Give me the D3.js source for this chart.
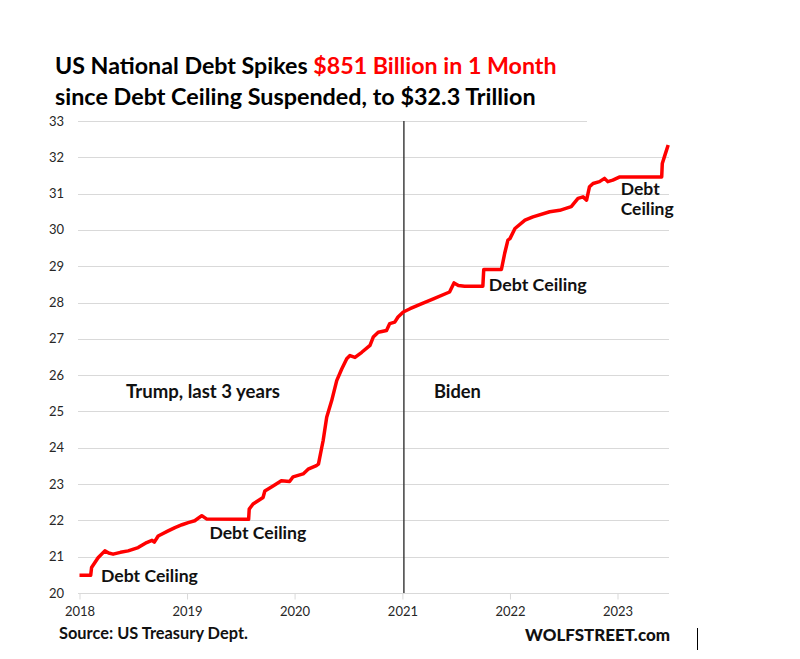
<!DOCTYPE html>
<html>
<head>
<meta charset="utf-8">
<script src="https://cdn.jsdelivr.net/npm/d3@7"></script>
<style>
  html, body { margin: 0; padding: 0; background: #ffffff; }
  svg { display: block; }
  text { font-family: Lato, "Open Sans", sans-serif; }
</style>
</head>
<body>
<svg id="chart" width="800" height="659"></svg>
<script>
// ---- data (US national debt, trillions $) ----
const dates = [
  "2018-01-01","2018-02-08","2018-02-11","2018-03-05","2018-03-28","2018-04-10","2018-04-25",
  "2018-05-20","2018-06-15","2018-07-19","2018-08-17","2018-09-04","2018-09-12","2018-09-25",
  "2018-10-29","2018-11-21","2018-12-15","2019-01-05","2019-01-27","2019-02-20","2019-03-08",
  "2019-07-29","2019-07-31","2019-08-13","2019-09-16","2019-09-22","2019-10-20","2019-11-17",
  "2019-12-15","2019-12-27","2020-01-30","2020-02-16","2020-03-15","2020-03-22","2020-04-02",
  "2020-04-07","2020-04-19","2020-05-06","2020-05-23","2020-06-09","2020-06-26","2020-07-07",
  "2020-07-24","2020-08-16","2020-09-13","2020-09-24","2020-10-11","2020-11-08","2020-11-19",
  "2020-12-06","2020-12-17","2021-01-04","2021-01-27","2021-03-02","2021-04-16","2021-06-10",
  "2021-06-25","2021-07-10","2021-07-31","2021-10-01","2021-10-04","2021-12-03","2021-12-14",
  "2021-12-25","2022-01-01","2022-01-18","2022-02-21","2022-03-20","2022-05-16","2022-06-19",
  "2022-07-28","2022-08-20","2022-09-06","2022-09-18","2022-09-28","2022-10-10","2022-11-01",
  "2022-11-18","2022-11-29","2022-12-16","2023-01-09","2023-05-31","2023-06-02","2023-06-11",
  "2023-06-22"
];
const debt = [
  20.49,20.49,20.70,20.97,21.16,21.10,21.07,
  21.12,21.16,21.25,21.39,21.45,21.40,21.57,
  21.71,21.80,21.88,21.94,21.99,22.13,22.04,
  22.03,22.31,22.45,22.63,22.81,22.95,23.09,
  23.07,23.20,23.28,23.41,23.51,23.55,24.00,
  24.20,24.84,25.30,25.85,26.17,26.45,26.54,
  26.49,26.63,26.82,27.05,27.18,27.23,27.42,
  27.46,27.60,27.74,27.83,27.95,28.10,28.29,
  28.54,28.47,28.45,28.45,28.91,28.91,29.35,
  29.72,29.76,30.04,30.27,30.36,30.50,30.54,
  30.64,30.87,30.91,30.82,31.19,31.28,31.33,
  31.42,31.33,31.37,31.46,31.46,31.83,32.06,
  32.34
];
const yTicks = [20,21,22,23,24,25,26,27,28,29,30,31,32,33];
const xTickYears = [2018,2019,2020,2021,2022,2023];
const titleLine1Black = "US National Debt Spikes ";
const titleLine1Red = "$851 Billion in 1 Month";
const titleLine2 = "since Debt Ceiling Suspended, to $32.3 Trillion";
const annotations = [
  { text: ["Debt Ceiling"], widths: [97], date: "2018-03-15", value: 20.30 },
  { text: ["Debt Ceiling"], widths: [97], date: "2019-03-18", value: 21.49 },
  { text: ["Debt Ceiling"], widths: [98], date: "2021-10-21", value: 28.32 },
  { text: ["Debt", "Ceiling"], widths: [39, 53], date: "2023-01-12", value: 30.96 },
  { text: ["Trump, last 3 years"], widths: [154], date: "2018-06-08", value: 25.37 },
  { text: ["Biden"], widths: [47], date: "2021-04-18", value: 25.37 }
];
const bidenLineDate = "2021-01-06";

// ---- layout ----
const svg = d3.select("#chart");
const parse = d3.timeParse("%Y-%m-%d");
const data = dates.map((d, i) => ({ date: parse(d), value: debt[i] }));

const x = d3.scaleTime()
  .domain([new Date(2018, 0, 1), new Date(2023, 0, 1)])
  .range([79.5, 617.5]);
const y = d3.scaleLinear().domain([20, 33]).range([593, 121]);
const xEnd = 669;

// helper to fit a text element to a given width
function fitWidth(sel, target) {
  const node = sel.node();
  const fs = parseFloat(sel.attr("font-size"));
  const w = node.getComputedTextLength();
  if (w > 0) sel.attr("font-size", fs * target / w);
}

// gridlines
svg.append("g").selectAll("line")
  .data(yTicks.filter(t => t > 20))
  .join("line")
  .attr("x1", 78)
  .attr("x2", d => d === 33 ? 587 : xEnd)
  .attr("y1", d => Math.round(y(d)) + 0.5)
  .attr("y2", d => Math.round(y(d)) + 0.5)
  .attr("stroke", "#d9d9d9")
  .attr("stroke-width", 1);

// y labels
svg.append("g").selectAll("text")
  .data(yTicks)
  .join("text")
  .attr("x", 64)
  .attr("y", d => y(d))
  .attr("dy", "0.35em")
  .attr("text-anchor", "end")
  .attr("font-size", 13)
  .attr("fill", "#262626")
  .text(d => d);

// x axis
const xAxisG = svg.append("g").attr("transform", `translate(0,${Math.round(y(20)) + 0.5})`);
xAxisG.append("line")
  .attr("x1", 78).attr("x2", xEnd)
  .attr("stroke", "#d9d9d9").attr("stroke-width", 1);
const xAxis = d3.axisBottom(x)
  .tickValues(xTickYears.map(yr => new Date(yr, 0, 1)))
  .tickFormat(d3.timeFormat("%Y"))
  .tickSize(6)
  .tickPadding(7);
xAxisG.call(xAxis);
xAxisG.select(".domain").remove();
xAxisG.selectAll(".tick line").attr("stroke", "#d9d9d9");
xAxisG.selectAll(".tick text")
  .attr("font-family", "Lato, sans-serif")
  .attr("font-size", 13)
  .attr("fill", "#262626");

// Biden vertical line
svg.append("line")
  .attr("x1", x(parse(bidenLineDate))).attr("x2", x(parse(bidenLineDate)))
  .attr("y1", y(33)).attr("y2", y(20))
  .attr("stroke", "#404040").attr("stroke-width", 1.5);

// debt line
const line = d3.line().x(d => x(d.date)).y(d => y(d.value));
svg.append("path")
  .datum(data)
  .attr("d", line)
  .attr("fill", "none")
  .attr("stroke", "#ff0000")
  .attr("stroke-width", 3.5)
  .attr("stroke-linejoin", "round");

// annotations
annotations.forEach(a => {
  const px = x(parse(a.date)), py = y(a.value);
  a.text.forEach((s, i) => {
    const t = svg.append("text")
      .attr("x", px)
      .attr("y", py + i * 20)
      .attr("font-size", 16)
      .attr("font-weight", 700)
      .attr("fill", "#111")
      .text(s);
    fitWidth(t, a.widths[i]);
  });
});

// title
const t1 = svg.append("text")
  .attr("x", 55).attr("y", 74)
  .attr("font-size", 21).attr("font-weight", 700).attr("fill", "#000");
t1.append("tspan").text(titleLine1Black);
t1.append("tspan").attr("fill", "#ff0000").text(titleLine1Red);
fitWidth(t1, 502);

const t2 = svg.append("text")
  .attr("x", 55).attr("y", 105)
  .attr("font-size", 21).attr("font-weight", 700).attr("fill", "#000")
  .text(titleLine2);
fitWidth(t2, 481);

// footer
const src = svg.append("text")
  .attr("x", 59).attr("y", 639)
  .attr("font-size", 14).attr("font-weight", 700).attr("fill", "#111")
  .text("Source: US Treasury Dept.");
fitWidth(src, 189);

const ws = svg.append("text")
  .attr("x", 670).attr("y", 641)
  .attr("text-anchor", "end")
  .attr("font-size", 16).attr("font-weight", 900).attr("fill", "#111")
  .text("WOLFSTREET.com");
fitWidth(ws, 145);

svg.append("line")
  .attr("x1", 697.5).attr("x2", 697.5)
  .attr("y1", 628).attr("y2", 650)
  .attr("stroke", "#000").attr("stroke-width", 1);
</script>
</body>
</html>
